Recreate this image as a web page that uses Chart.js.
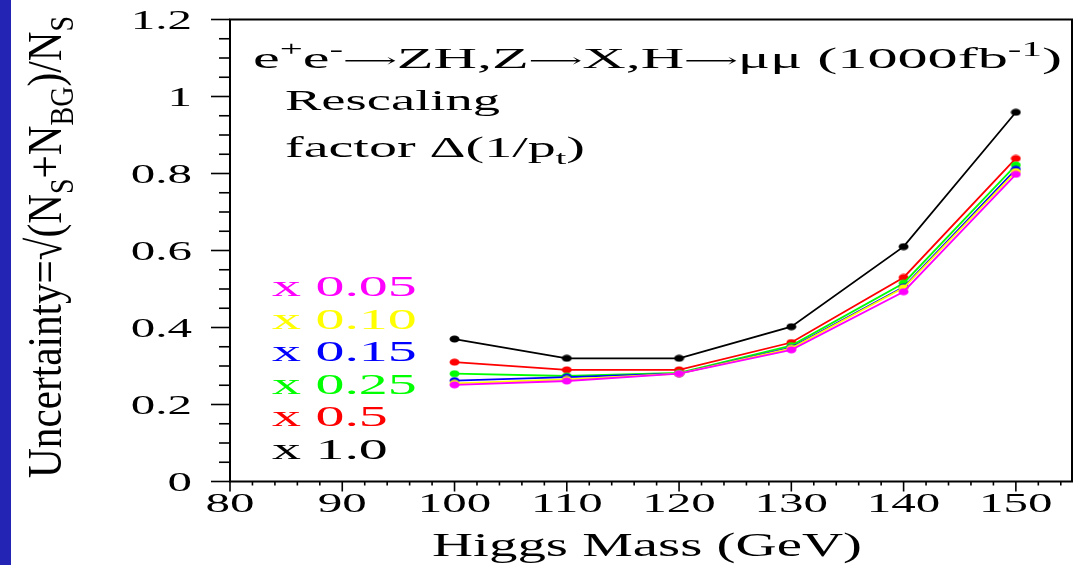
<!DOCTYPE html>
<html>
<head>
<meta charset="utf-8">
<script src="https://cdn.jsdelivr.net/npm/chart.js@4.4.0/dist/chart.umd.min.js"></script>
<style>
  html, body { margin: 0; padding: 0; background: #fff; overflow: hidden; }
  #wrap { width: 1079px; height: 565px; position: relative; }
</style>
</head>
<body>
<div id="wrap"><canvas id="chart" width="1079" height="565"></canvas></div>
<script>
// Higgs mass points (GeV)
const masses = [100, 110, 120, 130, 140, 150];

// uncertainty per rescaling factor of delta(1/pt)
const f005 = [0.251, 0.261, 0.280, 0.342, 0.493, 0.798];
const f010 = [0.255, 0.265, 0.280, 0.346, 0.503, 0.805];
const f015 = [0.262, 0.271, 0.280, 0.348, 0.505, 0.811];
const f025 = [0.280, 0.274, 0.282, 0.353, 0.515, 0.822];
const f05  = [0.310, 0.290, 0.290, 0.361, 0.530, 0.839];
const f10  = [0.370, 0.320, 0.320, 0.402, 0.610, 0.959];

const factorLabels = ['x 0.05', 'x 0.10', 'x 0.15', 'x 0.25', 'x 0.5', 'x 1.0'];
const factorColors = ['#ff00ff', '#ffff00', '#0000ff', '#00ff00', '#ff0000', '#000000'];
const factorValues = [f005, f010, f015, f025, f05, f10];

const xTickLabels = [80, 90, 100, 110, 120, 130, 140, 150];
const yTickLabels = [0, 0.2, 0.4, 0.6, 0.8, 1, 1.2];

const FONT = '"Liberation Serif", "DejaVu Serif", serif';

// small flattened dot, like in the original plot
function dot(color) {
    let c = document.createElement('canvas');
    c.width = 11; c.height = 8;
    let g = c.getContext('2d');
    g.fillStyle = color;
    g.beginPath();
    g.ellipse(5.5, 4, 5, 3.5, 0, 0, Math.PI * 2);
    g.fill();
    return c;
}

// draw text made of pieces (normal / sup / sub / scaled), stretched by sx, sy
// if fitW is given the horizontal stretch is chosen so the text spans fitW px
function richText(ctx, segs, x, y, size, sx, sy, align, fitW) {
    let parts = segs.map(s => {
        let fs = (s.sup || s.sub) ? size * 0.68 : size * (s.sc || 1);
        ctx.font = fs + 'px ' + FONT;
        return { t: s.t, fs: fs, w: ctx.measureText(s.t).width,
                 dy: s.sup ? -size * 0.4 * sy : (s.sub ? size * 0.25 * sy : (s.dy || 0)) };
    });
    let natural = parts.reduce((a, p) => a + p.w, 0);
    if (fitW) sx = fitW / natural;
    let total = natural * sx;
    let cx = x;
    if (align === 'center') cx = x - total / 2;
    if (align === 'right') cx = x - total;
    parts.forEach(p => {
        ctx.save();
        ctx.font = p.fs + 'px ' + FONT;
        ctx.translate(cx, y + p.dy);
        ctx.scale(sx, sy);
        ctx.textAlign = 'left';
        ctx.textBaseline = 'alphabetic';
        ctx.fillText(p.t, 0, 0);
        ctx.restore();
        cx += p.w * sx;
    });
}

const framePlugin = {
    id: 'frame',
    beforeDraw(chart) {
        let ctx = chart.ctx;
        ctx.save();
        ctx.fillStyle = '#ffffff';
        ctx.fillRect(0, 0, chart.width, chart.height);
        ctx.fillStyle = '#2424b4';
        ctx.fillRect(0, 0, 11, chart.height);
        ctx.restore();
    },
    afterDraw(chart) {
        let ctx = chart.ctx;
        let a = chart.chartArea;
        let xs = chart.scales.x, ys = chart.scales.y;
        ctx.save();
        ctx.strokeStyle = '#000';
        ctx.fillStyle = '#000';
        ctx.lineWidth = 2;
        ctx.strokeRect(a.left, a.top, a.right - a.left, a.bottom - a.top);

        // x ticks every 2 GeV, long every 10
        ctx.lineWidth = 1.6;
        for (let v = 80; v <= 155; v += 2) {
            let px = xs.getPixelForValue(v);
            let len = (v % 10 === 0) ? 10 : 4;
            ctx.beginPath();
            ctx.moveTo(px, a.bottom);
            ctx.lineTo(px, a.bottom + len);
            ctx.stroke();
        }
        // y ticks every 0.05, long every 0.2
        for (let i = 0; i <= 24; i++) {
            let py = ys.getPixelForValue(i * 0.05);
            let len = (i % 4 === 0) ? 19 : 11;
            ctx.beginPath();
            ctx.moveTo(a.left, py);
            ctx.lineTo(a.left - len, py);
            ctx.stroke();
        }

        // tick labels
        xTickLabels.forEach(v => {
            richText(ctx, [{ t: String(v) }], xs.getPixelForValue(v), 512, 28, 1.75, 1, 'center');
        });
        yTickLabels.forEach(v => {
            richText(ctx, [{ t: String(v) }], 192, ys.getPixelForValue(v) + 9, 28, 1.75, 1, 'right');
        });

        // axis titles
        richText(ctx, [{ t: 'Higgs Mass (GeV)' }], 647, 556, 34, 1, 1, 'center', 430);
        ctx.save();
        ctx.translate(61, 247);
        ctx.rotate(-Math.PI / 2);
        richText(ctx, [
            { t: 'Uncertainty=\u221A(N' }, { t: 'S', sub: true }, { t: '+N' },
            { t: 'BG', sub: true }, { t: ')/N' }, { t: 'S', sub: true }
        ], 0, 0, 40, 1, 1.22, 'center', 462);
        ctx.restore();

        // process label and rescaling note
        const arrow = { t: '\u27F6', sc: 0.62, dy: -1 };
        richText(ctx, [
            { t: 'e' }, { t: '+', sup: true }, { t: 'e' }, { t: '-', sup: true },
            arrow, { t: 'ZH,Z' }, arrow, { t: 'X,H' }, arrow,
            { t: '\u03BC\u03BC (1000fb' }, { t: '-1', sup: true }, { t: ')' }
        ], 253, 68, 30, 1, 1, 'left', 809);
        richText(ctx, [{ t: 'Rescaling' }], 285, 110, 29, 1, 1, 'left', 215);
        richText(ctx, [{ t: 'factor \u0394(1/p' }, { t: 't', sub: true }, { t: ')' }], 285, 157, 29, 1, 1, 'left', 300);

        // colour key
        factorLabels.forEach((lab, i) => {
            ctx.fillStyle = factorColors[i];
            richText(ctx, [{ t: lab }], 272, 296 + i * 32.6, 30, 1.93, 1, 'left');
        });
        ctx.restore();
    }
};

let ctx = document.getElementById('chart').getContext('2d');
new Chart(ctx, {
    type: 'line',
    data: {
        datasets: factorValues.map((vals, i) => ({
            label: factorLabels[i],
            data: masses.map((m, j) => ({ x: m, y: vals[j] })),
            borderColor: factorColors[i],
            backgroundColor: factorColors[i],
            borderWidth: 1.8,
            pointStyle: dot(factorColors[i]),
            pointRadius: 4,
            tension: 0,
            fill: false
        }))
    },
    options: {
        responsive: false,
        animation: false,
        events: [],
        layout: { padding: { top: 19.5, right: 7, left: 0, bottom: 0 } },
        plugins: { legend: { display: false }, tooltip: { enabled: false }, title: { display: false } },
        scales: {
            x: {
                type: 'linear', min: 80, max: 155,
                ticks: { display: false },
                grid: { display: false },
                border: { display: false },
                afterFit: s => { s.height = 83.5; }
            },
            y: {
                min: 0, max: 1.2,
                ticks: { display: false },
                grid: { display: false },
                border: { display: false },
                afterFit: s => { s.width = 230; }
            }
        }
    },
    plugins: [framePlugin]
});
</script>
</body>
</html>
